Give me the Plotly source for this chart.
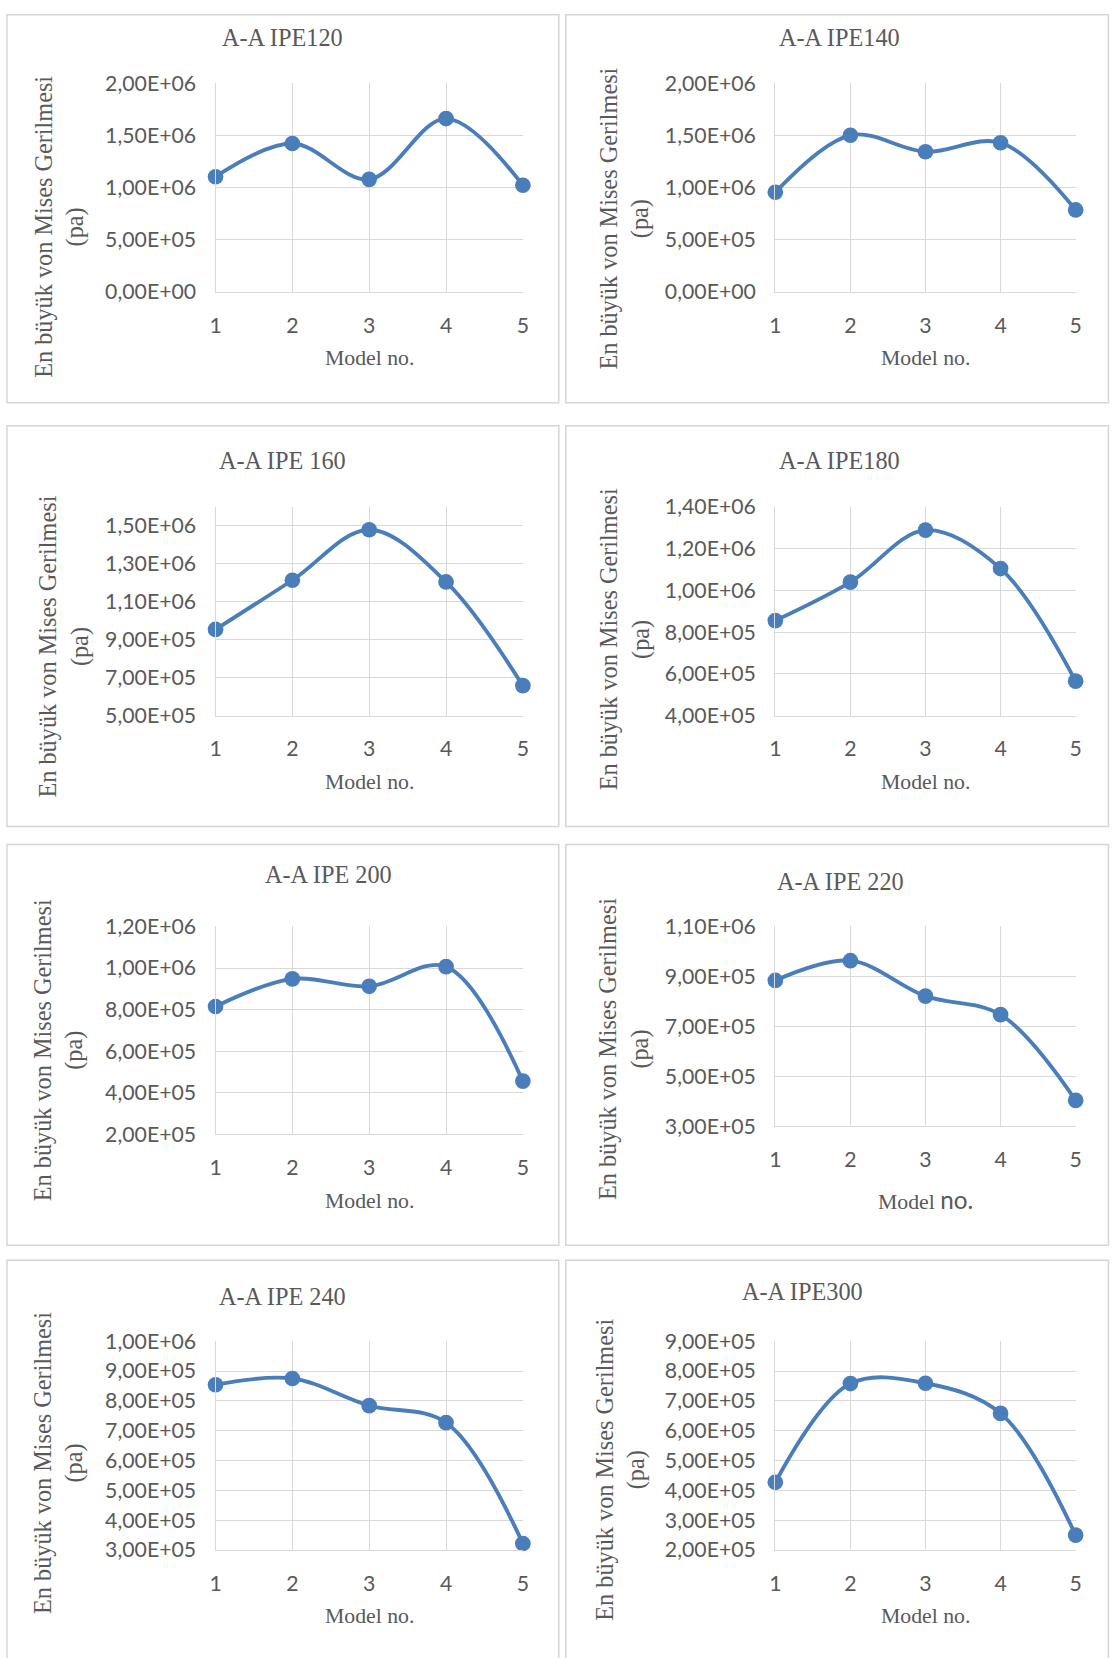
import plotly.graph_objects as go

# ---------------- data ----------------
models = [1, 2, 3, 4, 5]

titles = ["A-A IPE120", "A-A IPE140", "A-A IPE 160", "A-A IPE180",
          "A-A IPE 200", "A-A IPE 220", "A-A IPE 240", "A-A IPE300"]

ipe120 = [1.103e6, 1.421e6, 1.078e6, 1.660e6, 1.021e6]
ipe140 = [0.954e6, 1.500e6, 1.342e6, 1.428e6, 0.785e6]
ipe160 = [9.54e5, 1.213e6, 1.479e6, 1.204e6, 6.58e5]
ipe180 = [8.55e5, 1.039e6, 1.288e6, 1.104e6, 5.65e5]
ipe200 = [8.15e5, 9.48e5, 9.12e5, 1.007e6, 4.56e5]
ipe220 = [8.84e5, 9.63e5, 8.21e5, 7.47e5, 4.04e5]
ipe240 = [8.54e5, 8.75e5, 7.84e5, 7.27e5, 3.22e5]
ipe300 = [4.27e5, 7.58e5, 7.59e5, 6.58e5, 2.50e5]

series = [ipe120, ipe140, ipe160, ipe180, ipe200, ipe220, ipe240, ipe300]

ticks_120 = ["0,00E+00", "5,00E+05", "1,00E+06", "1,50E+06", "2,00E+06"]
ticks_140 = ["0,00E+00", "5,00E+05", "1,00E+06", "1,50E+06", "2,00E+06"]
ticks_160 = ["5,00E+05", "7,00E+05", "9,00E+05", "1,10E+06", "1,30E+06", "1,50E+06"]
ticks_180 = ["4,00E+05", "6,00E+05", "8,00E+05", "1,00E+06", "1,20E+06", "1,40E+06"]
ticks_200 = ["2,00E+05", "4,00E+05", "6,00E+05", "8,00E+05", "1,00E+06", "1,20E+06"]
ticks_220 = ["3,00E+05", "5,00E+05", "7,00E+05", "9,00E+05", "1,10E+06"]
ticks_240 = ["3,00E+05", "4,00E+05", "5,00E+05", "6,00E+05", "7,00E+05",
             "8,00E+05", "9,00E+05", "1,00E+06"]
ticks_300 = ["2,00E+05", "3,00E+05", "4,00E+05", "5,00E+05", "6,00E+05",
             "7,00E+05", "8,00E+05", "9,00E+05"]
tick_labels = [ticks_120, ticks_140, ticks_160, ticks_180,
               ticks_200, ticks_220, ticks_240, ticks_300]

y_ranges = [[0, 2.0e6], [0, 2.0e6], [5e5, 1.6e6], [4e5, 1.4e6],
            [2e5, 1.2e6], [3e5, 1.1e6], [3e5, 1.0e6], [2e5, 9e5]]

x_title = "Model no."
y_title = "En büyük von Mises Gerilmesi<br>(pa)"

# ---------------- layout (pixel positions, as seen in the target) ----------------
W, H = 1115, 1658
# plot area: x0, x1, y0(top), y1(bottom)
plot_boxes = [
    (215, 523, 83, 292), (776, 1077, 83, 292),
    (215, 523, 507, 716), (776, 1077, 507, 716),
    (215, 523, 927, 1135), (776, 1077, 927, 1127),
    (215, 523, 1342, 1551), (776, 1077, 1342, 1551),
]
panel_boxes = [
    (6, 559, 2, 403), (566, 1111, 2, 403),
    (6, 559, 426, 827), (566, 1111, 426, 827),
    (6, 559, 845, 1246), (566, 1111, 845, 1246),
    (6, 559, 1261, 1680), (566, 1111, 1261, 1680),
]
title_pos = [(282, 37), (840, 37), (282, 461), (840, 461),
             (328, 875), (841, 882), (282, 1297), (803, 1292)]
xtitle_y = [358, 358, 782, 782, 1202, 1200, 1617, 1617]
ytitle_pos = [(59, 227), (625, 219), (63, 647), (625, 640),
              (58, 1051), (625, 1050), (58, 1464), (621, 1471)]

# compensation for how the page is photographed (measured)
SX, OX = 0.9914, 5.0
SY, OY = 0.985, 13.9
K = 1 / ((SX + SY) / 2)

SERIF = "Liberation Serif"
SANS = "Lato"
TXT = "#595959"
BLUE = "#4a7ebb"
GRID = "#d9d9d9"

fig = go.Figure()
layout = dict(width=W, height=H, margin=dict(l=0, r=0, t=0, b=0),
              paper_bgcolor="white", plot_bgcolor="white", showlegend=False)
annotations = []
shapes = []

def clamp(v):
    return min(max(v, 0.0005), 0.9995)

def px(x):
    return (x - OX) / SX / W

def py(y):
    return 1 - (y - OY) / SY / H

for i in range(8):
    xa = "x" if i == 0 else f"x{i+1}"
    ya = "y" if i == 0 else f"y{i+1}"
    xkey = "xaxis" if i == 0 else f"xaxis{i+1}"
    ykey = "yaxis" if i == 0 else f"yaxis{i+1}"
    x0, x1, y0, y1 = plot_boxes[i]
    labels = tick_labels[i]
    vals = [float(s.replace(",", ".")) for s in labels]

    fig.add_trace(go.Scatter(
        x=models, y=series[i], xaxis=xa, yaxis=ya, mode="lines+markers",
        line=dict(color=BLUE, width=3.8 * K, shape="spline", smoothing=1.0),
        marker=dict(color=BLUE, size=15.5 * K), cliponaxis=False, hoverinfo="skip"))

    layout[xkey] = dict(domain=[px(x0), px(x1)], anchor=ya, range=[1, 5],
                        tickvals=models, ticktext=[str(m) for m in models],
                        showgrid=True, gridcolor=GRID, gridwidth=1.3,
                        zeroline=False, showline=True, linecolor=GRID, linewidth=1.3,
                        ticks="", ticklabelstandoff=14,
                        tickfont=dict(family=SANS, size=21 * K, color=TXT))
    layout[ykey] = dict(domain=[py(y1), py(y0)], anchor=xa, range=y_ranges[i],
                        tickvals=vals, ticktext=labels,
                        showgrid=True, gridcolor=GRID, gridwidth=1.3,
                        zeroline=False, showline=True, linecolor=GRID, linewidth=1.3,
                        ticks="", ticklabelstandoff=14,
                        tickfont=dict(family=SANS, size=21 * K, color=TXT))

    bx0, bx1, by0, by1 = panel_boxes[i]
    shapes.append(dict(type="rect", xref="paper", yref="paper",
                       x0=clamp(px(bx0)), x1=clamp(px(bx1)),
                       y0=clamp(py(by1)) if by1 < 1660 else -0.01, y1=clamp(py(by0)),
                       line=dict(color="#d6d6d6", width=1.5), layer="below"))

    tx, ty = title_pos[i]
    annotations.append(dict(text=titles[i], x=px(tx), y=py(ty), xref="paper", yref="paper",
                            xanchor="center", yanchor="middle", showarrow=False,
                            font=dict(family=SERIF, size=24 * K, color=TXT)))
    xt = x_title
    if i == 5:
        xt = f"Model <span style='font-family:{SANS}; font-size:{24 * K:.1f}px'>no.</span>"
    annotations.append(dict(text=xt, x=px((x0 + x1) / 2), y=py(xtitle_y[i]),
                            xref="paper", yref="paper", xanchor="center", yanchor="middle",
                            showarrow=False, font=dict(family=SERIF, size=21.5 * K, color=TXT)))
    yx, yy = ytitle_pos[i]
    annotations.append(dict(text=y_title, x=px(yx), y=py(yy), xref="paper", yref="paper",
                            xanchor="center", yanchor="middle", showarrow=False, textangle=-90,
                            font=dict(family=SERIF, size=24 * K, color=TXT)))

layout["annotations"] = annotations
layout["shapes"] = shapes
fig.update_layout(**layout)
fig.write_html("out.html", config={"displayModeBar": False},
               post_script="document.body.style.margin='0px';document.body.style.padding='0px';")
